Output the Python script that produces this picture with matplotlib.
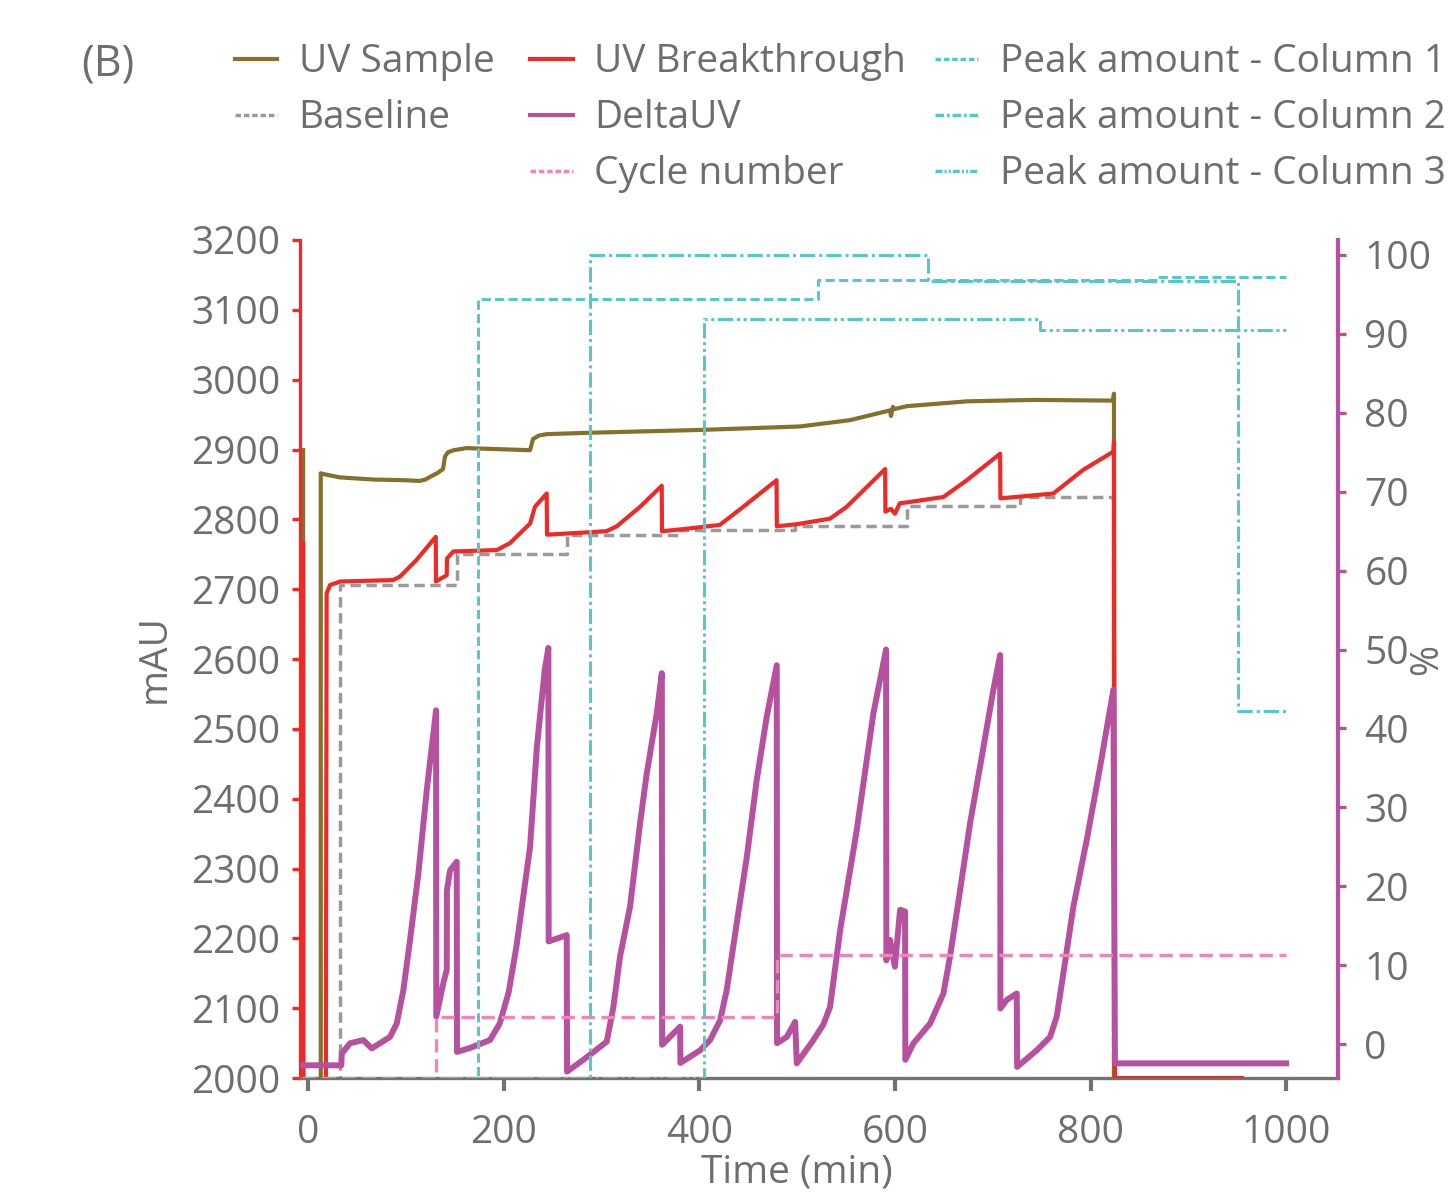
import matplotlib
matplotlib.use('Agg')
import matplotlib.pyplot as plt
from matplotlib.lines import Line2D

plt.rcParams['font.family'] = ['Open Sans', 'DejaVu Sans']

# colours
c_sample = '#86702C'
c_break = '#EE2A27'
c_base = '#9A9A9C'
c_delta = '#B6519F'
c_cycle = '#F384B6'
c_peak = '#55C7CD'
c_text = '#6D6E71'

# UV Sample (mAU)
sample_t = [-5, -5, -4.5, 13, 13, 15, 33, 67, 100, 114, 120, 125, 132, 138, 140, 143, 149, 162,
            227, 230, 236, 244, 288, 401, 503, 554, 595, 596, 598, 600, 612, 674, 742, 823, 824,
            824.5]
sample_v = [2899, 2766, 0, 0, 2866, 2865, 2860, 2857, 2856, 2855, 2857, 2861, 2866, 2872, 2890,
            2896, 2899, 2902, 2899, 2915, 2920, 2922, 2924, 2928, 2933, 2942, 2956, 2948, 2961,
            2958, 2962, 2969, 2971, 2970, 2980, 0]

# UV Breakthrough (mAU)
break_t = [-5, -4.5, 16, 19, 22.5, 33, 87, 94, 111, 130.6, 130.8, 141.8, 142, 148.6, 193, 206.5,
           227, 232, 244, 244.3, 305, 315.6, 339.5, 361.6, 361.9, 383.7, 421, 445, 479, 479.3,
           499.7, 533.7, 550.8, 590, 590.3, 596, 600, 605, 611, 649.6, 673.5, 707.6, 707.9, 762,
           792.7, 823.4, 824, 825, 955]
break_v = [2766, 0, 0, 2694, 2706, 2711, 2713, 2718, 2742, 2775, 2711, 2720, 2744, 2754, 2756,
           2766, 2794, 2818, 2837, 2778, 2783, 2790, 2818, 2848, 2783, 2786, 2792, 2818, 2856,
           2790, 2793, 2801, 2818, 2872, 2811, 2815, 2808, 2823, 2824, 2832, 2856, 2894, 2830,
           2837, 2871, 2897, 2911, 2000, 2000]

# Baseline (mAU)
base_t = [-5, 33, 33, 152, 152, 264.5, 264.5, 380, 380, 498, 498, 612, 612, 728, 728, 823.5, 823.5]
base_v = [0, 0, 2706, 2706, 2751, 2751, 2778, 2778, 2785, 2785, 2791, 2791, 2819, 2819, 2832,
          2832, 0]

# DeltaUV (%)
delta_t = [-5, 34, 34.5, 43, 56.5, 65, 73.6, 83.8, 90.7, 97.4, 104.3, 112.8, 121.4, 130.9, 131.1,
           138.3, 141.8, 142, 145.2, 152, 152.3, 165.6, 186, 196, 205, 213, 227, 234, 242, 245.7,
           246, 264.5, 264.8, 281.5, 305.4, 312.2, 319, 329.2, 339.5, 346.3, 356.5, 361.7, 362,
           380.4, 380.7, 400.8, 411, 421.3, 428, 438.3, 448.6, 458.8, 469, 479.2, 479.5, 489.5,
           498, 499.7, 516.7, 527, 533.7, 544, 561, 578, 591, 591.3, 595, 600, 605.3, 610.4,
           610.7, 619, 636, 649.6, 656.4, 666.7, 676.9, 687, 700.7, 707.6, 707.9, 714.4, 724.6,
           725, 745, 758.7, 765.5, 772.3, 782.5, 796.2, 809.8, 823.4, 825, 1000]
delta_v = [-2.7, -2.7, -1.2, 0.1, 0.5, -0.55, 0.1, 0.9, 2.6, 6.8, 13.2, 21.6, 32.2, 42.3, 3.5,
           7.7, 9.4, 19.5, 22.0, 23.1, -1.0, -0.5, 0.5, 2.6, 6.5, 12.3, 25.0, 37.7, 47.4, 50.2,
           13.0, 13.8, -3.5, -2.0, 0.3, 4.7, 11.1, 17.4, 28.0, 34.3, 41.9, 47.0, -0.1,
           2.2, -2.4, -0.8, 0.5, 3.0, 6.8, 15.3, 23.7, 33.5, 41.5, 48.0, 0.1, 0.9,
           2.8, -2.45, 0.5, 2.5, 4.7, 14.4, 27.1, 41.9, 50.0, 10.6, 13.2, 9.8, 17.0, 16.8,
           -2.0, 0.1, 2.6, 6.4, 11.1, 19.5, 28.0, 35.1, 44.9, 49.3, 4.5, 5.6, 6.4,
           -2.9, -0.8, 0.9, 3.5, 9.0, 17.4, 25.9, 35.1, 44.9, -2.45, -2.45]

# Cycle number
cycle_t = [-6, 130.5, 130.5, 479, 479, 1000]
cycle_v = [0, 0, 1, 1, 2, 2]

# Peak amounts (%)
peak1_t = [135, 174, 174, 521.5, 521.5, 868, 868, 1000]
peak1_v = [0, 0, 94.65, 94.65, 96.95, 96.95, 97.35, 97.35]
peak2_t = [135, 288.3, 288.3, 634, 634, 951, 951, 1000]
peak2_v = [0, 0, 100, 100, 96.8, 96.8, 44.6, 44.6]
peak3_t = [135, 405, 405, 748.5, 748.5, 1000]
peak3_v = [0, 0, 92.2, 92.2, 90.9, 90.9]

fig = plt.figure(figsize=(14.48, 11.97), dpi=100)
ax = fig.add_axes([0.2072, 0.0994, 0.7168, 0.7001])
ax2 = ax.twinx()
ax3 = ax.twinx()
ax4 = ax.twinx()

ax.plot(base_t, base_v, color=c_base, lw=2.5, dashes=(3, 1.6))
ax.plot(sample_t, sample_v, color=c_sample, lw=3)
ax.plot(break_t, break_v, color=c_break, lw=3, zorder=3)

ax2.plot(delta_t, delta_v, color=c_delta, lw=4.3)
ax3.plot(cycle_t, cycle_v, color=c_cycle, lw=2.4, dashes=(4, 2))
ax4.plot(peak1_t, peak1_v, color=c_peak, lw=2.2, dashes=(3, 1.4))
ax4.plot(peak2_t, peak2_v, color=c_peak, lw=2.2, dashes=(5, 1.3, 1, 1.3))
ax4.plot(peak3_t, peak3_v, color=c_peak, lw=2.2, dashes=(5, 1.2, 1, 1.2, 1, 1.2))

ax.set_xlim(-8.2, 1053)
ax.set_ylim(2000, 3200)
ax2.set_ylim(-4.31, 101.9)
ax3.set_ylim(0, 13.67)
ax4.set_ylim(0, 101.8)
ax3.axis('off')
ax4.axis('off')

ax.set_xticks(range(0, 1001, 200))
ax.set_yticks(range(2000, 3201, 100))
ax2.set_yticks(range(0, 101, 10))

for s in ['top', 'right']:
    ax.spines[s].set_visible(False)
for s in ['top', 'left', 'bottom']:
    ax2.spines[s].set_visible(False)
ax.spines['left'].set_color(c_break)
ax.spines['left'].set_linewidth(2.4)
ax.spines['bottom'].set_color('#737373')
ax.spines['bottom'].set_linewidth(2.4)
ax2.spines['right'].set_color(c_delta)
ax2.spines['right'].set_linewidth(3)

ax.tick_params(axis='y', colors=c_break, labelcolor=c_text, labelsize=28, length=6, width=2.4, pad=8)
ax.tick_params(axis='x', colors='#737373', labelcolor=c_text, labelsize=28, length=9, width=3, pad=17)
ax2.tick_params(axis='y', colors=c_delta, labelcolor=c_text, labelsize=28, length=6, width=2.4, pad=13)

ax.set_ylabel('mAU', fontsize=28, color=c_text)
ax.yaxis.set_label_coords(-0.122, 0.5)
ax.set_xlabel('Time (min)', fontsize=28, color=c_text)
ax.xaxis.set_label_coords(0.479, -0.0895)
ax2.set_ylabel('%', fontsize=27, color=c_text)
ax2.yaxis.set_label_coords(1.068, 0.5)

fig.text(0.0745, 0.946, '(B)', fontsize=31, color=c_text, ha='center', va='center')

leg_kw = dict(loc='upper left', frameon=False, fontsize=28, labelcolor=c_text,
              handlelength=1.1, handletextpad=0.55, borderpad=0, borderaxespad=0,
              labelspacing=0.46)
col1 = [Line2D([], [], color=c_sample, lw=3),
        Line2D([], [], color=c_base, lw=2.5, dashes=(1.6, 0.8))]
col2 = [Line2D([], [], color=c_break, lw=3),
        Line2D([], [], color=c_delta, lw=3),
        Line2D([], [], color=c_cycle, lw=2.5, dashes=(1.6, 0.8))]
col3 = [Line2D([], [], color=c_peak, lw=2.5, dashes=(1.6, 0.8)),
        Line2D([], [], color=c_peak, lw=2.5, dashes=(2.5, 0.8, 0.8, 0.8)),
        Line2D([], [], color=c_peak, lw=2.5, dashes=(2, 0.6, 0.6, 0.6, 0.6, 0.6))]
fig.legend(col1, ['UV Sample', 'Baseline'], bbox_to_anchor=(0.162, 0.9637), **leg_kw)
fig.legend(col2, ['UV Breakthrough', 'DeltaUV', 'Cycle number'], bbox_to_anchor=(0.366, 0.9637), **leg_kw)
fig.legend(col3, ['Peak amount - Column 1', 'Peak amount - Column 2', 'Peak amount - Column 3'],
           bbox_to_anchor=(0.646, 0.9637), **leg_kw)

fig.savefig('out.png', dpi=100)
